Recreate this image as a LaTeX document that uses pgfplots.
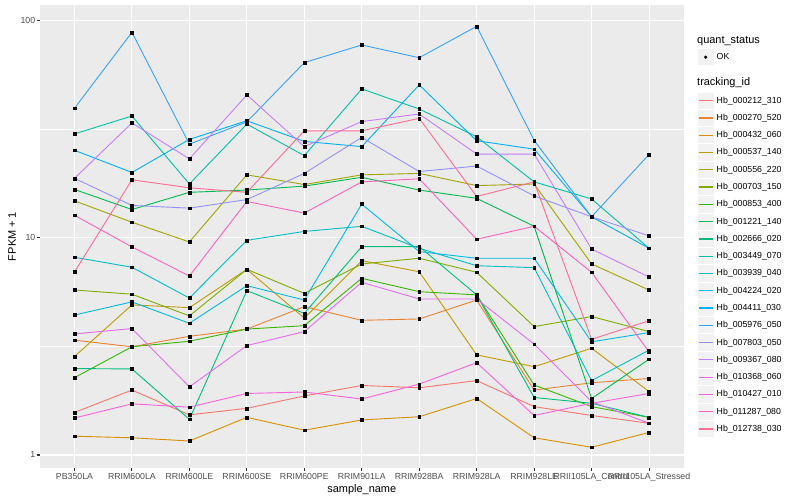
\documentclass[border=0pt]{standalone}
\usepackage{fontspec}
\setmainfont{Liberation Sans}
\usepackage{pgfplots}
\usepackage{pgfplotstable}
\pgfplotsset{compat=1.18}

% ggplot hue palette, 20 levels
\definecolor{h212}{HTML}{F8766D}
\definecolor{h270}{HTML}{EA8331}
\definecolor{h432}{HTML}{D89000}
\definecolor{h537}{HTML}{C09B00}
\definecolor{h556}{HTML}{A3A500}
\definecolor{h703}{HTML}{7CAE00}
\definecolor{h853}{HTML}{39B600}
\definecolor{h1221}{HTML}{00BB4E}
\definecolor{h2666}{HTML}{00BF7D}
\definecolor{h3449}{HTML}{00C1A3}
\definecolor{h3939}{HTML}{00BFC4}
\definecolor{h4224}{HTML}{00BAE0}
\definecolor{h4411}{HTML}{00B0F6}
\definecolor{h5976}{HTML}{35A2FF}
\definecolor{h7803}{HTML}{9590FF}
\definecolor{h9367}{HTML}{C77CFF}
\definecolor{h10368}{HTML}{E76BF3}
\definecolor{h10427}{HTML}{FA62DB}
\definecolor{h11287}{HTML}{FF62BC}
\definecolor{h12738}{HTML}{FF6C91}
\definecolor{panelbg}{HTML}{EBEBEB}
\definecolor{keybg}{HTML}{F2F2F2}
\definecolor{tickgray}{HTML}{333333}
\definecolor{labgray}{HTML}{4D4D4D}

% FPKM + 1, one column per tracking_id, rows = samples
\pgfplotstableread{
x h212 h270 h432 h537 h556 h703 h853 h1221 h2666 h3449 h3939 h4224 h4411 h5976 h7803 h9367 h10368 h10427 h11287 h12738
0 1.57 3.38 1.22 2.84 14.8 5.75 2.27 16.7 2.50 30.1 8.14 4.41 25.3 39.5 18.8 18.8 3.61 1.48 12.7 6.96
1 1.99 3.15 1.20 4.91 11.8 5.50 3.15 13.5 2.49 36.4 7.32 5.07 20.0 88.4 14.1 33.8 3.82 1.72 9.08 18.5
2 1.53 3.52 1.16 4.77 9.57 4.37 3.34 16.2 1.46 17.7 5.28 4.04 28.4 27.0 13.7 23.1 2.06 1.66 6.67 17.0
3 1.64 3.80 1.49 7.16 19.5 7.16 3.80 16.6 5.71 33.4 9.74 6.02 34.6 34.2 15.0 45.5 3.19 1.92 14.7 16.2
4 1.87 4.82 1.30 4.27 17.6 5.55 3.94 17.3 4.49 23.9 10.7 5.17 27.8 64.1 19.8 26.3 3.70 1.95 13.0 31.1
5 2.09 4.17 1.45 7.85 19.5 7.58 6.51 19.0 9.11 48.5 11.3 14.3 26.3 77.3 29.0 34.3 6.24 1.81 18.1 31.1
6 2.04 4.23 1.50 6.98 19.8 8.05 5.65 16.6 9.11 39.2 8.95 8.64 50.6 67.5 20.2 37.2 5.23 2.12 18.7 35.5
7 2.20 5.17 1.82 2.89 17.4 6.94 5.46 15.2 5.46 29.2 7.44 8.05 28.0 94.2 21.4 24.3 5.23 2.66 9.85 15.5
8 1.67 1.99 1.20 2.55 17.7 3.90 2.10 11.3 1.84 18.1 7.29 8.05 25.6 28.1 15.6 24.3 3.24 1.52 11.3 18.1
9 1.52 2.15 1.085 3.10 7.58 4.34 1.67 1.82 1.73 15.1 2.20 3.32 12.5 12.5 12.5 8.88 1.76 1.73 6.94 3.41
10 1.40 2.25 1.27 1.96 5.75 3.70 1.49 2.76 1.49 8.95 3.04 3.66 8.95 24.2 10.2 6.60 1.40 1.92 2.98 4.15
}\data

\begin{document}
\begin{tikzpicture}[x=1bp,y=1bp]
\path[use as bounding box] (0,0) rectangle (800,500);

\begin{axis}[
  at={(40bp,32bp)}, anchor=south west,
  scale only axis, width=643.5bp, height=463bp,
  xmin=-0.6, xmax=10.6,
  ymode=log, ymin=0.871, ymax=118.1,
  axis background/.style={fill=panelbg},
  axis line style={draw=none},
  xtick={0,...,10},
  xticklabels={PB350LA,RRIM600LA,RRIM600LE,RRIM600SE,RRIM600PE,RRIM901LA,RRIM928BA,RRIM928LA,RRIM928LE,RRII105LA\_Control,RRII105LA\_Stressed},
  ytick={1,10,100}, yticklabels={1,10,100},
  minor ytick={3.16228,31.6228},
  xmajorgrids, ymajorgrids, yminorgrids,
  major grid style={white, line width=1.07bp},
  minor grid style={white, line width=0.53bp},
  tick align=outside, xtick pos=bottom, ytick pos=left,
  major tick length=2.75bp, minor tick length=0pt,
  tick style={tickgray, line width=1.07bp},
  ticklabel style={font=\fontsize{8.8}{10}\selectfont, text=labgray, inner sep=0pt},
  xticklabel style={yshift=-2.5bp},
  yticklabel style={xshift=-1.8bp},
  xlabel={sample\_name}, ylabel={FPKM + 1},
  label style={font=\fontsize{11}{13}\selectfont, inner sep=0pt},
  xlabel style={at={(axis description cs:0.5,-0.054)}, anchor=base},
  ylabel style={at={(axis description cs:-0.0435,0.5)}, anchor=center},
  legend style={at={(1.02098,0.81197)}, anchor=north west,
    draw=none, fill=none, inner sep=0pt, outer sep=0pt,
    row sep=0pt, column sep=2.4bp,
    font=\fontsize{8.8}{10}\selectfont, nodes={inner sep=0pt}},
  legend cell align=left,
  legend image code/.code={
    \path[draw=none, fill=none] (0bp,-8.64bp) rectangle (17.28bp,8.64bp);
    \path[draw=none, fill=keybg] (0.5bp,-8.14bp) rectangle (16.78bp,8.14bp);
    \draw[line width=1.2bp] (1.7bp,0bp) -- (15.58bp,0bp);
  },
  legend entries={Hb\_000212\_310,Hb\_000270\_520,Hb\_000432\_060,Hb\_000537\_140,
    Hb\_000556\_220,Hb\_000703\_150,Hb\_000853\_400,Hb\_001221\_140,Hb\_002666\_020,
    Hb\_003449\_070,Hb\_003939\_040,Hb\_004224\_020,Hb\_004411\_030,Hb\_005976\_050,
    Hb\_007803\_050,Hb\_009367\_080,Hb\_010368\_060,Hb\_010427\_010,Hb\_011287\_080,
    Hb\_012738\_030},
]
% lines first, then all points on top (as geom_line + geom_point)
\pgfplotsinvokeforeach{h212,h270,h432,h537,h556,h703,h853,h1221,h2666,h3449,h3939,h4224,h4411,h5976,h7803,h9367,h10368,h10427,h11287,h12738}{
  \addplot[color=#1, line width=0.9bp, no marks] table[x=x, y=#1]{\data};
}
\pgfplotsinvokeforeach{h212,h270,h432,h537,h556,h703,h853,h1221,h2666,h3449,h3939,h4224,h4411,h5976,h7803,h9367,h10368,h10427,h11287,h12738}{
  \addplot[forget plot, only marks, mark=square*, mark size=1.4bp, black] table[x=x, y=#1]{\data};
}
\end{axis}

% quant_status legend
\begin{axis}[
  at={(0bp,0bp)}, anchor=south west,
  scale only axis, width=800bp, height=500bp,
  hide axis, xmin=0, xmax=1, ymin=0, ymax=1,
  legend style={at={(0.87125,0.90288)}, anchor=north west,
    draw=none, fill=none, inner sep=0pt, outer sep=0pt,
    row sep=0pt, column sep=2.4bp,
    font=\fontsize{8.8}{10}\selectfont, nodes={inner sep=0pt}},
  legend cell align=left,
  legend image code/.code={
    \path[draw=none, fill=none] (0bp,-8.64bp) rectangle (17.28bp,8.64bp);
    \path[draw=none, fill=keybg] (0.5bp,-8.14bp) rectangle (16.78bp,8.14bp);
    \draw plot[only marks, mark=*, mark size=1.4bp] coordinates {(8.64bp,0bp)};
  },
]
\addlegendimage{black}
\addlegendentry{OK}
\end{axis}

\node[anchor=base west, inner sep=0pt, font=\fontsize{11}{13}\selectfont] at (697,456.5) {quant\_status};
\node[anchor=base west, inner sep=0pt, font=\fontsize{11}{13}\selectfont] at (697,414) {tracking\_id};
\end{tikzpicture}
\end{document}
